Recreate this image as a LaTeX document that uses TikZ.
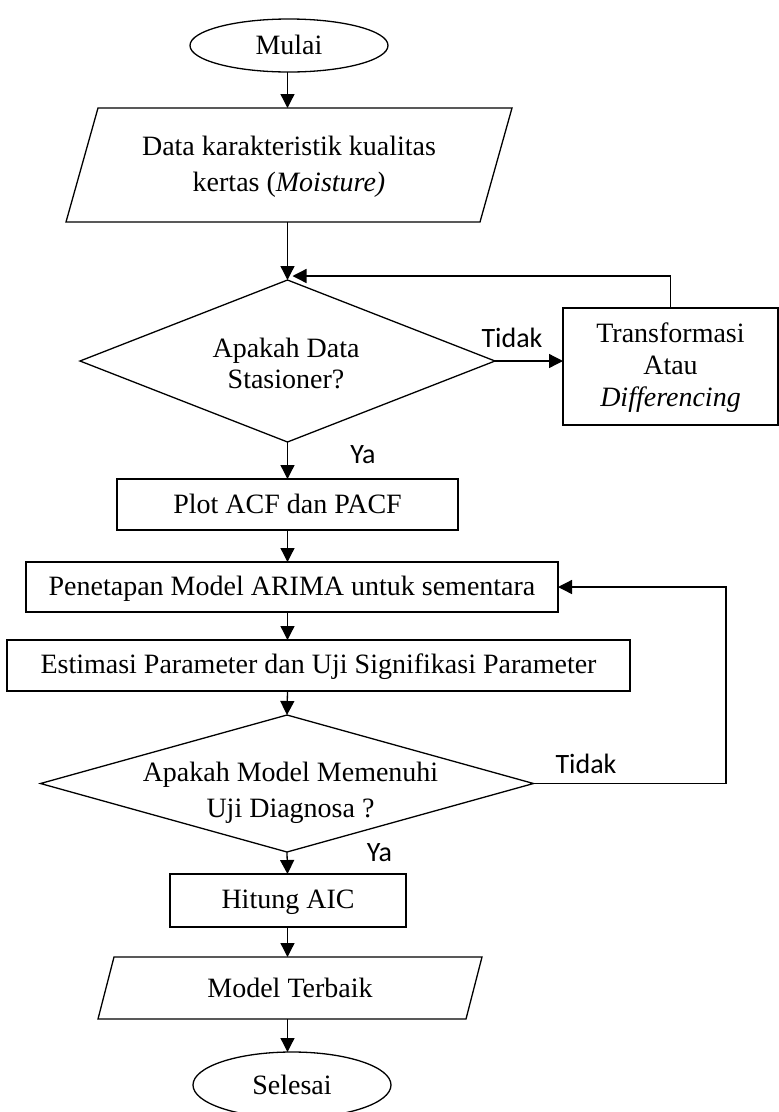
\documentclass[tikz,border=0pt]{standalone}
\usepackage{fontspec}
\setmainfont{Liberation Serif}
\newfontfamily\calib{Carlito}
\usetikzlibrary{shapes.geometric,arrows.meta,calc}
\newcommand\mystr{\rule[-4.5pt]{0pt}{27pt}}
\begin{document}
\begin{tikzpicture}[x=1pt,y=-1pt, line width=1.3pt,
  every node/.style={inner sep=0pt, outer sep=0pt},
  txt/.style={font=\fontsize{28}{36}\selectfont, align=center},
  boxnode/.style={draw, rectangle, txt},
  ghost/.style={rectangle, draw=none, txt},
  dia/.style={draw, diamond},
  term/.style={draw, ellipse, txt},
  lbl/.style={font=\calib\fontsize{28}{34}\selectfont},
  arr/.style={-{Triangle[length=14pt,width=14pt]}}
]
\useasboundingbox (0,0) rectangle (779,1112);
\coordinate (col) at (287.5,0);
\coordinate (rt) at (726,0);
\coordinate (j1) at (287.5,276);

% terminals
\node[term, minimum width=198pt, minimum height=53pt] (mulai) at (289,45.5) {\mystr Mulai};
\node[term, minimum width=198pt, minimum height=66pt] (selesai) at (292,1085) {\mystr Selesai};

% input parallelogram
\node[ghost, minimum width=414pt, minimum height=114pt] (data) at (289,165)
  {\mystr Data karakteristik kualitas\\ \mystr kertas (\textit{Moisture)}};
\draw ([xshift=16pt]data.north west) -- ([xshift=16pt]data.north east)
  -- ([xshift=-16pt]data.south east) -- ([xshift=-16pt]data.south west) -- cycle;

% decision 1
\node[dia, minimum width=415pt, minimum height=162pt] (d1) at (287.5,361) {};
\node[txt, font=\fontsize{28}{31}\selectfont] (d1t) at (286,363.5)
  {\mystr Apakah Data\\ \mystr Stasioner?};

% transform box
\node[boxnode, font=\fontsize{28}{32}\selectfont, minimum width=215pt, minimum height=117pt] (trans) at (670.5,366.5)
  {\mystr Transformasi\\ \mystr Atau\\ \mystr\textit{Differencing}};

% process boxes
\node[boxnode, minimum width=341pt, minimum height=51pt] (plot) at (287.5,504.5) {\mystr Plot ACF dan PACF};
\node[boxnode, minimum width=532pt, minimum height=50pt] (pen) at (292,587) {\mystr Penetapan Model ARIMA untuk sementara};
\node[boxnode, minimum width=623pt, minimum height=51pt] (est) at (318.5,665.5) {\mystr Estimasi Parameter dan Uji Signifikasi Parameter};

% decision 2
\node[dia, minimum width=493pt, minimum height=137pt] (d2) at (287,783.5) {};
\node[txt] (d2t) at (290.5,791)
  {\mystr Apakah Model Memenuhi\\ \mystr Uji Diagnosa ?};

\node[boxnode, minimum width=236pt, minimum height=53pt] (hit) at (288,900.5) {\mystr Hitung AIC};

% output parallelogram
\node[ghost, minimum width=368pt, minimum height=62pt] (model) at (290,988) {\mystr Model Terbaik};
\draw ([xshift=8pt]model.north west) -- ([xshift=8pt]model.north east)
  -- ([xshift=-8pt]model.south east) -- ([xshift=-8pt]model.south west) -- cycle;

% labels
\node[lbl, anchor=base] (tidak1) at (512,347) {Tidak};
\node[lbl, anchor=base] (ya1) at (363,463) {Ya};
\node[lbl, anchor=base] (tidak2) at (586,773) {Tidak};
\node[lbl, anchor=base] (ya2) at (379.5,861) {Ya};

% connectors
\draw[arr] (col |- mulai.south) -- (col |- data.north);
\draw[arr] (col |- data.south) -- (d1.north);
\draw[arr] (trans.north) -- (trans.north |- j1) -- ([xshift=5pt]j1);
\draw[arr] (d1.east) -- (d1.east -| trans.west);
\draw[arr] (d1.south) -- (col |- plot.north);
\draw[arr] (col |- plot.south) -- (col |- pen.north);
\draw[arr] (col |- pen.south) -- (col |- est.north);
\draw[arr] (col |- est.south) -- (d2.north);
\draw[arr] (d2.east) -- (d2.east -| rt) -- (rt |- pen.east) -- (pen.east);
\draw[arr] (d2.south) -- (col |- hit.north);
\draw[arr] (col |- hit.south) -- (col |- model.north);
\draw[arr] (col |- model.south) -- (col |- selesai.north);
\end{tikzpicture}
\end{document}
